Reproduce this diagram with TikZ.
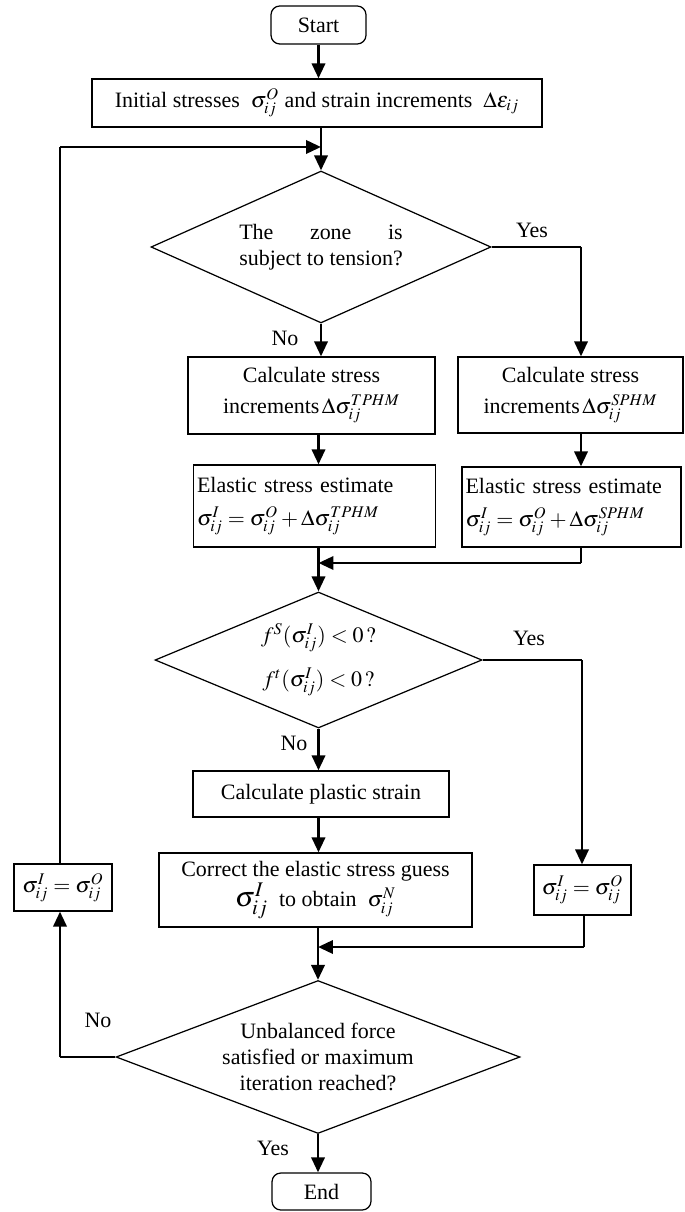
\documentclass[tikz,border=0pt]{standalone}
\usepackage{mathptmx}
\usepackage[no-math]{fontspec}
\setmainfont{Liberation Serif}
\usepackage{calc}
\usetikzlibrary{shapes.geometric,arrows.meta}

\begin{document}
\begin{tikzpicture}[
  x=0.02cm, y=-0.02cm,
  font=\fontsize{12.5}{14.6}\selectfont,
  proc/.style={draw, line width=0.7pt, rectangle, align=center, inner sep=2pt},
  term/.style={proc, rounded corners=5pt},
  dec/.style={draw, line width=0.7pt, diamond, aspect=2.4, inner sep=1pt, align=center},
  flow/.style={-{Triangle[length=8.5pt,width=7.5pt]}, line width=1.6pt},
  link/.style={line width=0.8pt},
  elabel/.style={inner sep=1pt},
]
\useasboundingbox (0,0) rectangle (685,1212);

\node[term, minimum width=1.9cm, minimum height=0.76cm] (start) at (318.5,25) {Start};
\node[proc, minimum width=9cm, minimum height=0.96cm] (init) at (317,103)
  {Initial stresses \ $\sigma_{ij}^{O}$ and strain increments \ $\Delta\varepsilon_{ij}$};
\node[dec, minimum width=6.8cm, minimum height=3.04cm] (tens) at (321,247)
  {\makebox[\widthof{subject to tension?}][s]{The\hfill zone\hfill is}\\subject to tension?};
\node[proc, minimum width=4.94cm, minimum height=1.54cm] (calcT) at (311.5,395.5)
  {Calculate stress\\[3pt] increments$\,\Delta\sigma_{ij}^{TPHM}$};
\node[proc, minimum width=4.5cm, minimum height=1.52cm] (calcS) at (570.5,395)
  {Calculate stress\\[3pt] increments$\,\Delta\sigma_{ij}^{SPHM}$};
\node[proc, align=left, text width=4.7cm, minimum height=1.64cm] (estT) at (314.5,506)
  {Elastic stress estimate\\[4pt] $\sigma_{ij}^{I}=\sigma_{ij}^{O}+\Delta\sigma_{ij}^{TPHM}$};
\node[proc, align=left, text width=4.24cm, minimum height=1.6cm] (estS) at (571.5,507)
  {Elastic stress estimate\\[4pt] $\sigma_{ij}^{I}=\sigma_{ij}^{O}+\Delta\sigma_{ij}^{SPHM}$};
\node[dec, minimum width=6.54cm, minimum height=2.72cm] (yield) at (318.5,660)
  {$f^{S}(\sigma_{ij}^{I})<0\,?$\\[8pt] $f^{t}(\sigma_{ij}^{I})<0\,?$};
\node[proc, minimum width=5.12cm, minimum height=0.92cm] (plastic) at (321,794)
  {Calculate plastic strain};
\node[proc, minimum width=6.26cm, minimum height=1.48cm] (correct) at (315.5,890)
  {Correct the elastic stress guess\\ {\fontsize{16}{16}\selectfont$\sigma_{ij}^{I}$} \ to obtain \ $\sigma_{ij}^{N}$};
\node[proc, minimum width=1.94cm, minimum height=1cm] (resetR) at (582.5,890)
  {$\sigma_{ij}^{I}=\sigma_{ij}^{O}$};
\node[dec, aspect=2.6, minimum width=8.08cm, minimum height=3.06cm] (conv) at (318,1057)
  {Unbalanced force\\ satisfied or maximum\\ iteration reached?};
\node[proc, minimum width=1.96cm, minimum height=0.94cm] (resetL) at (63,887.5)
  {$\sigma_{ij}^{I}=\sigma_{ij}^{O}$};
\node[term, minimum width=1.98cm, minimum height=0.74cm] (end) at (321.5,1191.5) {End};

% bends
\coordinate (loopTop) at (60,147);
\coordinate (yesA) at (581,247);
\coordinate (mergeA) at (581,563);
\coordinate (yesB) at (582,660);
\coordinate (mergeB) at (584,947);
\coordinate (noC) at (60,1057);

\draw[flow] (start) -- (start |- init.north);
\draw[flow] (init.south -| tens.north) -- (tens.north);
\draw[link] (resetL.north -| loopTop) -- (loopTop);
\draw[flow] (loopTop) -- (loopTop -| tens.north);

\draw[flow] (tens.south) -- (tens.south |- calcT.north);
\draw[link] (tens.east) -- (yesA);
\draw[flow] (yesA) -- (yesA |- calcS.north);
\draw[flow] (calcT.south -| yield.north) -- (yield.north |- estT.north);
\draw[flow] (calcS.south -| yesA) -- (yesA |- estS.north);
\draw[flow] (estT.south -| yield.north) -- (yield.north);
\draw[link] (estS.south -| mergeA) -- (mergeA);
\draw[flow] (mergeA) -- (mergeA -| yield.north);

\draw[flow] (yield.south) -- (yield.south |- plastic.north);
\draw[link] (yield.east) -- (yesB);
\draw[flow] (yesB) -- (yesB |- resetR.north);
\draw[flow] (plastic.south -| yield.south) -- (yield.south |- correct.north);
\draw[flow] (correct.south -| conv.north) -- (conv.north);
\draw[link] (resetR.south -| mergeB) -- (mergeB);
\draw[flow] (mergeB) -- (mergeB -| conv.north);

\draw[flow] (conv.south) -- (conv.south |- end.north);
\draw[link] (conv.west) -- (noC);
\draw[flow] (noC) -- (noC |- resetL.south);

\node[elabel] (yes1) at (532,230) {Yes};
\node[elabel] (no1) at (285,338) {No};
\node[elabel] (yes2) at (529,638) {Yes};
\node[elabel] (no2) at (294,743) {No};
\node[elabel] (no3) at (98,1020) {No};
\node[elabel] (yes3) at (273,1148) {Yes};
\end{tikzpicture}
\end{document}
